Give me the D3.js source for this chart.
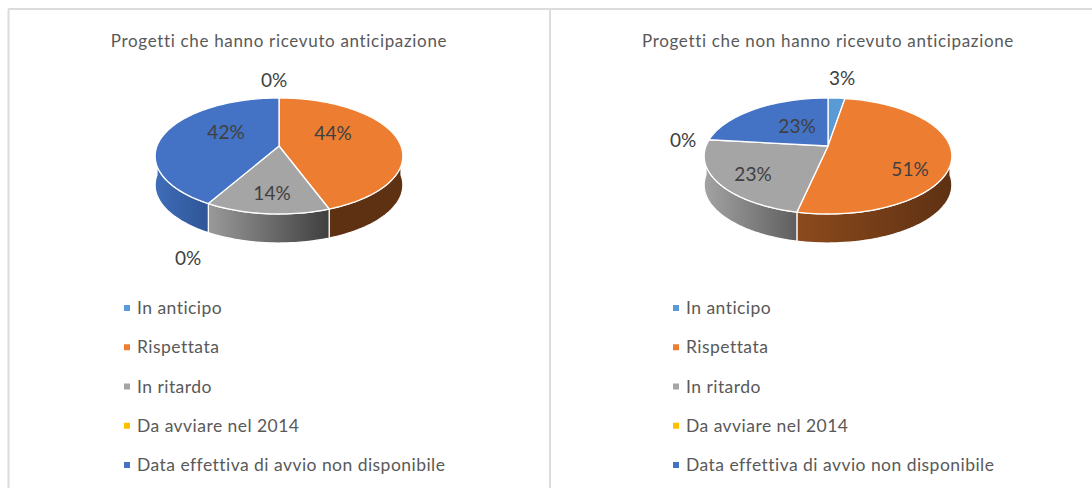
<!DOCTYPE html>
<html>
<head>
<meta charset="utf-8">
<script src="https://cdnjs.cloudflare.com/ajax/libs/d3/7.8.5/d3.min.js"></script>
<style>
  html, body { margin: 0; padding: 0; background: #fff; }
  svg { display: block; }
  text { font-family: Lato, Carlito, sans-serif; }
</style>
</head>
<body>
<div id="chart"></div>
<script>
// Data
const categories = ['In anticipo', 'Rispettata', 'In ritardo', 'Da avviare nel 2014', 'Data effettiva di avvio non disponibile'];
const title_left = 'Progetti che hanno ricevuto anticipazione';
const title_right = 'Progetti che non hanno ricevuto anticipazione';
const values_left = [0, 44.4, 13.8, 0, 41.8];
const values_right = [2.6, 50.8, 23.4, 0, 23.2];

// Style and layout
const colors = ['#5b9bd5', '#ed7d31', '#a5a5a5', '#ffc000', '#4472c4'];
const chart_width = 1092;
const chart_height = 488;
const depth = 29;
const radius = 122;
const persp = 0.172;   // how much the near edge of the pie grows
const squash = 56.3;
const apex_y = 146;

// side wall shading per slice, [left colour, right colour]
const sides_left = [null, ['#5e3113', '#5e3113'], ['#9a9a9a', '#3f3f3f'], null, ['#3f6db8', '#2f5597']];
const sides_right = [null, ['#8c4a1c', '#5e3113'], ['#a3a3a3', '#5f5f5f'], null, null];

// label offsets from the pie apex
const label_left = [[-5, -66], [54, -13], [-7, 47], [-91, 112], [-53, -14]];
const label_right = [[14, -68], [82, 23], [-75, 28], [-145, -6], [-31, -20]];

const svg = d3.select('#chart')
    .append('svg')
    .attr('width', chart_width)
    .attr('height', chart_height);

const defs = svg.append('defs');

// Frame
const frame = [[8.5, 9, 8.5, 488], [8, 9, 1092, 9], [550, 9, 550, 488]];
svg.selectAll('line.frame')
    .data(frame)
    .enter()
    .append('line')
    .attr('class', 'frame')
    .attr('x1', d => d[0])
    .attr('y1', d => d[1])
    .attr('x2', d => d[2])
    .attr('y2', d => d[3])
    .attr('stroke', '#dcdcdc')
    .attr('stroke-width', 2);

// a = angle clockwise from the top, result is a screen point
const project = (a, cx, z) => {
    const x = Math.sin(a);
    const y = -Math.cos(a);
    const s = 1 / (1 - persp * y);
    return [cx + radius * x * s, apex_y + squash * y * s + z];
};

const rim = (a0, a1, cx, z) => {
    const n = Math.max(2, Math.ceil((a1 - a0) / 0.03));
    return d3.range(n + 1).map(i => project(a0 + (a1 - a0) * i / n, cx, z));
};

function draw_pie(values, cx, title, title_x, sides, labels, legend_x, id) {
    const arcs = d3.pie().sort(null).value(d => d)(values);
    const path = d3.line();
    const g = svg.append('g');

    g.append('text')
        .attr('x', title_x)
        .attr('y', 46.5)
        .attr('text-anchor', 'middle')
        .attr('font-size', 17)
        .attr('letter-spacing', 0.67)
        .attr('fill', '#595959')
        .text(title);

    // Side walls: only the part of each slice facing the viewer
    arcs.forEach((d, i) => {
        if (d.value === 0) return;
        const a0 = Math.max(d.startAngle, Math.PI / 2);
        const a1 = Math.min(d.endAngle, Math.PI * 3 / 2);
        if (a1 <= a0) return;
        const top = rim(a0, a1, cx, 0);
        const bottom = rim(a0, a1, cx, depth).reverse();
        const shade = sides[i] || [d3.color(colors[i]).darker(0.3), d3.color(colors[i]).darker(0.8)];
        const x0 = d3.min(top, p => p[0]);
        const x1 = d3.max(top, p => p[0]);
        const grad = defs.append('linearGradient')
            .attr('id', `side_${id}_${i}`)
            .attr('gradientUnits', 'userSpaceOnUse')
            .attr('x1', x0).attr('y1', 0)
            .attr('x2', x1).attr('y2', 0);
        grad.append('stop').attr('offset', 0).attr('stop-color', shade[0]);
        grad.append('stop').attr('offset', 1).attr('stop-color', shade[1]);
        g.append('path')
            .attr('d', path(top.concat(bottom)) + 'Z')
            .attr('fill', `url(#side_${id}_${i})`)
            .attr('stroke', '#fff')
            .attr('stroke-width', 1.2)
            .attr('stroke-linejoin', 'round');
    });

    // Top face
    g.selectAll('path.slice')
        .data(arcs.filter(d => d.value > 0))
        .enter()
        .append('path')
        .attr('class', 'slice')
        .attr('d', d => path([[cx, apex_y]].concat(rim(d.startAngle, d.endAngle, cx, 0))) + 'Z')
        .attr('fill', d => colors[d.index])
        .attr('stroke', '#fff')
        .attr('stroke-width', 1.3)
        .attr('stroke-linejoin', 'round');

    // Data labels
    g.selectAll('text.label')
        .data(arcs)
        .enter()
        .append('text')
        .attr('class', 'label')
        .attr('x', d => cx + labels[d.index][0])
        .attr('y', d => apex_y + labels[d.index][1] + 7)
        .attr('text-anchor', 'middle')
        .attr('font-size', 19)
        .attr('fill', '#404040')
        .text(d => `${Math.round(d.value)}%`);

    // Legend
    const legend_y = d3.scalePoint()
        .domain(categories)
        .range([308, 465]);

    const legend = g.selectAll('g.legend')
        .data(categories)
        .enter()
        .append('g')
        .attr('class', 'legend')
        .attr('transform', d => `translate(${legend_x}, ${legend_y(d)})`);

    legend.append('rect')
        .attr('x', 0)
        .attr('y', -3)
        .attr('width', 6)
        .attr('height', 6)
        .attr('fill', (d, i) => colors[i]);

    legend.append('text')
        .attr('x', 13)
        .attr('y', 6)
        .attr('font-size', 17.5)
        .attr('letter-spacing', 0.46)
        .attr('fill', '#595959')
        .text(d => d);
}

draw_pie(values_left, 279, title_left, 279, sides_left, label_left, 124, 'l');
draw_pie(values_right, 828, title_right, 828, sides_right, label_right, 673, 'r');
</script>
</body>
</html>
